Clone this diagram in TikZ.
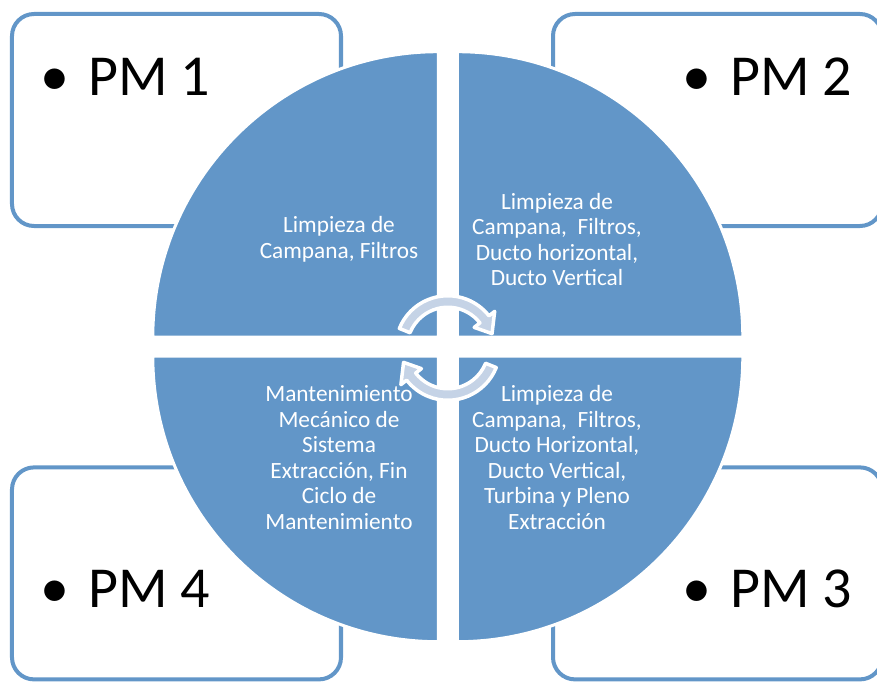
\documentclass[tikz,border=0pt]{standalone}
\usepackage{fontspec}
\setmainfont{Carlito}
\usetikzlibrary{calc}
\definecolor{quadblue}{RGB}{98,150,200}
\definecolor{arrowfill}{RGB}{197,211,230}

\begin{document}
\begin{tikzpicture}[x=1pt, y=1pt,
    pmbox/.style={draw=quadblue, line width=4pt, fill=white, rounded corners=22pt, minimum width=329pt, minimum height=212pt, inner sep=0pt},
    quad/.style={fill=quadblue, draw=white, line width=3pt},
    quadtext/.style={text=white, align=center, inner sep=0pt, font=\fontsize{23.3}{25.5}\selectfont},
    pmtext/.style={anchor=base west, inner sep=0pt, font=\fontsize{58}{70}\selectfont},
    cyclearrow/.style={fill=arrowfill, draw=white, line width=3.5pt, line join=round}]
  \useasboundingbox (-447.8,-336.3) rectangle (429.2,346.7);

  % outer boxes
  \node[pmbox] (box1) at (-271.3,226.7) {};
  \node[pmbox] (box2) at (269.7,226.7) {};
  \node[pmbox] (box3) at (269.7,-226.7) {};
  \node[pmbox] (box4) at (-271.3,-226.7) {};
  \node[pmtext] (pm1) at (-407.8,251) {\makebox[48pt][l]{\textbullet}PM 1};
  \node[pmtext] (pm2) at (234.2,251) {\makebox[48pt][l]{\textbullet}PM 2};
  \node[pmtext] (pm3) at (234.2,-261) {\makebox[48pt][l]{\textbullet}PM 3};
  \node[pmtext] (pm4) at (-407.8,-261) {\makebox[48pt][l]{\textbullet}PM 4};

  % quadrants
  \draw[quad] (-9.5,9.5) -- ++(-285.5,0) arc[start angle=180, end angle=90, radius=285.5] -- cycle;
  \draw[quad] (9.5,9.5) -- ++(0,285.5) arc[start angle=90, end angle=0, radius=285.5] -- cycle;
  \draw[quad] (9.5,-9.5) -- ++(285.5,0) arc[start angle=0, end angle=-90, radius=285.5] -- cycle;
  \draw[quad] (-9.5,-9.5) -- ++(0,-285.5) arc[start angle=-90, end angle=-180, radius=285.5] -- cycle;

  \node[quadtext] (q1) at (-108.8,107.2) {Limpieza de\\Campana, Filtros};
  \node[quadtext] (q2) at (109.2,107.2) {Limpieza de\\Campana,~ Filtros,\\Ducto horizontal,\\Ducto Vertical};
  \node[quadtext] (q3) at (109.2,-110.8) {Limpieza de\\Campana,~ Filtros,\\Ducto Horizontal,\\Ducto Vertical,\\Turbina y Pleno\\Extracción};
  \node[quadtext] (q4) at (-108.8,-110.8) {Mantenimiento\\Mecánico de\\Sistema\\Extracción, Fin\\Ciclo de\\Mantenimiento};

  % cycle arrows
  \coordinate (arrc) at (0,-1.3);
  \foreach \s [evaluate=\s as \b using \s-120, evaluate=\s as \t using \s-140] in {158,-22}
    \draw[cyclearrow] ($(arrc)+(\s:52.25)$) arc[start angle=\s, end angle=\b, radius=52.25]
      -- ($(arrc)+(\b:59.5)$) -- ($(arrc)+(\t:46.5)$) -- ($(arrc)+(\b:33.5)$) -- ($(arrc)+(\b:40.75)$)
      arc[start angle=\b, end angle=\s, radius=40.75] -- cycle;
\end{tikzpicture}
\end{document}
